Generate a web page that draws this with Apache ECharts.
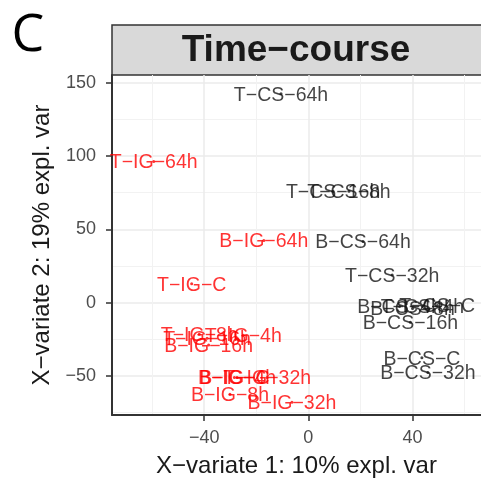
<!DOCTYPE html>
<html>
<head>
<meta charset="utf-8">
<script src="https://cdn.jsdelivr.net/npm/echarts@6/dist/echarts.min.js"></script>
<style>
html, body { margin: 0; padding: 0; background: #fff; }
#main { width: 481px; height: 483px; }
</style>
</head>
<body>
<div id="main"></div>
<script>
// sample labels and their coordinates on the two X-variates
const sampleNames = [
    'T−CS−64h', 'T−IG−64h', 'T−CS−16h', 'T−CS−8h', 'B−IG−64h', 'B−CS−64h',
    'T−CS−32h', 'T−IG−C', 'B−CS−4h', 'B−CS−8h', 'T−CS−4h', 'T−CS−C',
    'B−CS−16h', 'B−CS−C', 'B−CS−32h', 'T−IG−8h', 'T−IG−16h', 'T−IG−4h',
    'B−IG−16h', 'B−IG−C', 'B−IG−4h', 'T−IG−32h', 'B−IG−8h', 'B−IG−32h'
];
const variate1 = [
    -10.5, -59.4, 9.5, 15.6, -17.1, 21.0,
    32.2, -44.8, 35.0, 40.0, 43.8, 49.5,
    39.2, 43.6, 45.9, -41.9, -38.9, -25.0,
    -38.3, -28.4, -27.4, -15.8, -30.1, -6.3
];
const variate2 = [
    142.5, 96.3, 75.9, 75.9, 42.3, 41.7,
    18.8, 12.8, -2.7, -4.0, -2.7, -2.0,
    -13.4, -37.6, -47.7, -21.5, -24.2, -22.2,
    -28.9, -51.1, -51.1, -51.1, -62.5, -67.9
];

const xTicks = [-40, 0, 40];
const xMinorTicks = [-60, -20, 20, 60];
const yTicks = [-50, 0, 50, 100, 150];
const yMinorTicks = [-75, -25, 25, 75, 125];

const chart = echarts.init(document.getElementById('main'));

const groupColor = name => name.indexOf('IG') >= 0 ? '#FF0000' : '#141414';

const points = sampleNames.map((name, i) => ({
    name: name,
    value: [variate1[i], variate2[i]],
    itemStyle: { color: groupColor(name) },
    label: { color: groupColor(name) }
}));

const XMIN = -75.4, XMAX = 66.3, YMIN = -76.6, YMAX = 155.2;

var option = {
    backgroundColor: '#fff',
    animation: false,
    grid: { left: 112, top: 75, right: -3, bottom: 63 },
    xAxis: [{
        type: 'value', min: XMIN, max: XMAX,
        name: 'X−variate 1: 10% expl. var',
        nameLocation: 'middle', nameGap: 39,
        nameTextStyle: { fontFamily: 'Liberation Sans', fontSize: 24, color: '#1A1A1A' },
        axisLine: { show: true, onZero: false, lineStyle: { color: '#333', width: 2 } },
        axisTick: { show: true, length: 6, customValues: xTicks, lineStyle: { color: '#333', width: 1.5 } },
        axisLabel: { customValues: xTicks, margin: 14, fontFamily: 'Liberation Sans', fontSize: 18, color: '#4D4D4D',
            formatter: v => String(v).replace('-', '−') },
        splitLine: { show: true, lineStyle: { color: '#EBEBEB', width: 1.5 } }
    }, {
        type: 'value', min: XMIN, max: XMAX, position: 'bottom',
        axisLine: { show: false },
        axisTick: { show: false, customValues: xMinorTicks },
        axisLabel: { show: false, customValues: xMinorTicks },
        splitLine: { show: true, lineStyle: { color: '#F2F2F2', width: 1 } }
    }],
    yAxis: [{
        type: 'value', min: YMIN, max: YMAX,
        name: 'X−variate 2: 19% expl. var',
        nameLocation: 'middle', nameGap: 58,
        nameTextStyle: { fontFamily: 'Liberation Sans', fontSize: 24, color: '#1A1A1A' },
        axisLine: { show: true, onZero: false, lineStyle: { color: '#333', width: 2 } },
        axisTick: { show: true, length: 6, customValues: yTicks, lineStyle: { color: '#333', width: 1.5 } },
        axisLabel: { customValues: yTicks, margin: 16, fontFamily: 'Liberation Sans', fontSize: 18, color: '#4D4D4D',
            formatter: v => String(v).replace('-', '−') },
        splitLine: { show: true, lineStyle: { color: '#EBEBEB', width: 1.5 } }
    }, {
        type: 'value', min: YMIN, max: YMAX,
        axisLine: { show: false },
        axisTick: { show: false, customValues: yMinorTicks },
        axisLabel: { show: false, customValues: yMinorTicks },
        splitLine: { show: true, lineStyle: { color: '#F2F2F2', width: 1 } }
    }],
    graphic: [{
        type: 'rect',
        shape: { x: 112, y: 25, width: 380, height: 50 },
        style: { fill: '#D9D9D9', stroke: '#333', lineWidth: 1.5 }
    }, {
        type: 'text', x: 296, y: 51,
        style: { text: 'Time−course', fontFamily: 'Liberation Sans', fontWeight: 'bold', fontSize: 37,
            fill: '#1A1A1A', align: 'center', verticalAlign: 'middle' }
    }, {
        type: 'text', x: 28, y: 36,
        style: { text: 'C', fontFamily: 'Open Sans', fontSize: 52, fill: '#000',
            align: 'center', verticalAlign: 'middle' }
    }],
    series: [{
        type: 'scatter',
        xAxisIndex: 0, yAxisIndex: 0,
        symbolSize: 3,
        data: points,
        label: {
            show: true,
            position: 'inside',
            offset: [0, 1.5],
            formatter: '{b}',
            fontFamily: 'Liberation Sans',
            fontSize: 19.5
        }
    }]
};
chart.setOption(option);
</script>
</body>
</html>
